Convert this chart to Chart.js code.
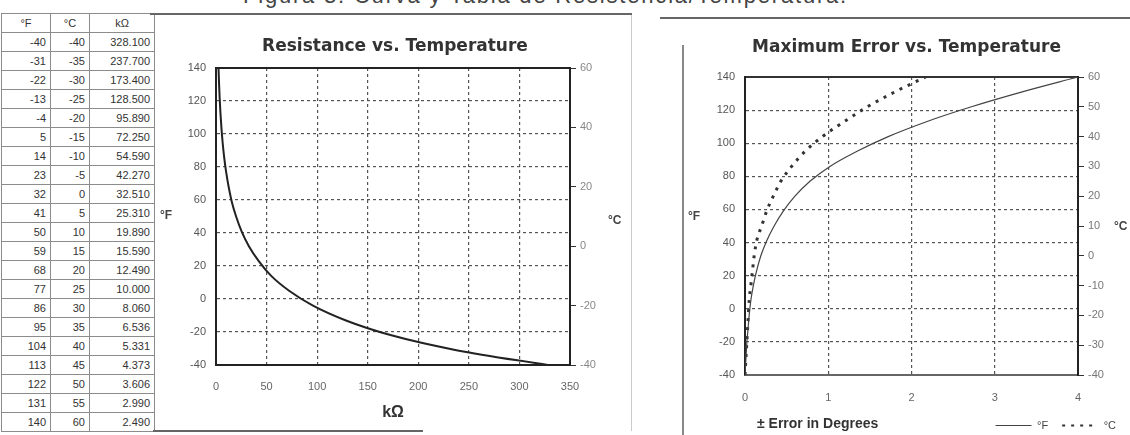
<!DOCTYPE html>
<html><head><meta charset="utf-8">
<script src="https://cdn.jsdelivr.net/npm/chart.js@4.4.1/dist/chart.umd.min.js"></script>
<style>
body{margin:0;width:1130px;height:435px;overflow:hidden;background:#fff;position:relative;font-family:'Liberation Sans',Arial,sans-serif;color:#333}
.abs{position:absolute}
#caption{position:absolute;left:243px;top:-15px;font-size:22px;line-height:22px;color:#444;white-space:nowrap}
#tbl{position:absolute;left:1px;top:13px;width:153px;border-collapse:collapse;table-layout:fixed;font-size:11px;color:#333}
#tbl tr{height:19px}
#tbl td,#tbl th{padding:0 4px 0 0;text-align:right;border:1px solid #8c8c8c;font-weight:normal;overflow:hidden;white-space:nowrap}
#tbl th{text-align:center;padding:0}
.unit{position:absolute;font-size:12px;font-weight:bold;color:#444}
</style></head>
<body>
<div id="caption">Figura 3. Curva y Tabla de Resistencia/Temperatura.</div>
<table id="tbl"></table>

<div class="abs" style="left:150px;top:13px;width:482px;border-top:2px solid #666"></div>
<div class="abs" style="left:631px;top:15px;height:416px;border-left:1px solid #ccc"></div>
<div class="abs" style="left:153px;top:430px;width:270px;border-top:2px solid #666"></div>
<div class="abs" style="left:660px;top:17px;width:470px;border-top:2px solid #666"></div>
<div class="abs" style="left:682px;top:45px;height:390px;border-left:2px solid #888"></div>

<div class="abs" style="left:155px;top:20px;width:480px;height:410px"><canvas id="c1" width="480" height="410"></canvas></div>
<div class="abs" style="left:683px;top:20px;width:447px;height:421px"><canvas id="c2" width="447" height="421"></canvas></div>

<div class="unit" style="left:160px;top:208px">°F</div>
<div class="unit" style="left:608px;top:213px">°C</div>
<div class="unit" style="left:688px;top:209px">°F</div>
<div class="unit" style="left:1114px;top:219px">°C</div>
<div class="abs" style="left:757px;top:415px;font-size:14px;font-weight:bold;color:#333;white-space:nowrap">± Error in Degrees</div>

<script>
// ---- data ----
const tempF = [-40,-31,-22,-13,-4,5,14,23,32,41,50,59,68,77,86,95,104,113,122,131,140];
const tempC = [-40,-35,-30,-25,-20,-15,-10,-5,0,5,10,15,20,25,30,35,40,45,50,55,60];
const resK  = [328.1,237.7,173.4,128.5,95.89,72.25,54.59,42.27,32.51,25.31,19.89,15.59,12.49,10.0,8.06,6.536,5.331,4.373,3.606,2.99,2.49];
const errF  = [0,0.01,0.02,0.035,0.05,0.07,0.1,0.14,0.19,0.26,0.35,0.46,0.6,0.78,1.02,1.34,1.72,2.18,2.72,3.33,4.0];
const errC  = [0,0.01,0.02,0.03,0.04,0.05,0.07,0.09,0.11,0.14,0.2,0.26,0.34,0.43,0.56,0.72,0.93,1.19,1.47,1.8,2.17];
const resTicks = [0,50,100,150,200,250,300,350];
const errTicks = [0,1,2,3,4];
const tempFTicks = [-40,-20,0,20,40,60,80,100,120,140];
const tempCTicks1 = [-40,-20,0,20,40,60];
const tempCTicks2 = [-40,-30,-20,-10,0,10,20,30,40,50,60];
const headers = ['°F','°C','kΩ'];

// ---- table ----
let html = '<colgroup><col style="width:49px"><col style="width:39px"><col style="width:65px"></colgroup>';
html += '<tr>' + headers.map(h => '<th>' + h + '</th>').join('') + '</tr>';
tempF.forEach((f, i) => {
  html += '<tr><td>' + f + '</td><td>' + tempC[i] + '</td><td>' + resK[i].toFixed(3) + '</td></tr>';
});
document.getElementById('tbl').innerHTML = html;

// caption width fit
const cap = document.getElementById('caption');
const w = cap.getBoundingClientRect().width;
cap.style.letterSpacing = ((605 - w) / cap.textContent.length) + 'px';

Chart.defaults.font.family = "'Liberation Sans', Arial, sans-serif";
Chart.defaults.animation = false;

const gridDash = [3, 3];
const stepOf = a => a[1] - a[0];

function fixW(v){ return s => { s.width = v; }; }
function fixH(v){ return s => { s.height = v; }; }

// ---- chart 1 ----
const pts1 = resK.map((r, i) => ({x: r, y: tempF[i]})).sort((a, b) => a.x - b.x);
new Chart(document.getElementById('c1'), {
  type: 'scatter',
  data: {datasets: [{data: pts1, showLine: true, borderColor: '#222', borderWidth: 2, pointRadius: 0, cubicInterpolationMode: 'monotone'}]},
  options: {
    responsive: false,
    layout: {padding: 0},
    plugins: {
      legend: {display: false}, tooltip: {enabled: false},
      title: {display: true, text: 'Resistance vs. Temperature', color: '#333',
        font: {family: 'DejaVu Sans', size: 17, weight: 'bold', lineHeight: 1.2}, padding: {top: 16, bottom: 11.6}}
    },
    scales: {
      x: {type: 'linear', position: 'bottom', min: resTicks[0], max: resTicks[resTicks.length-1],
        ticks: {stepSize: stepOf(resTicks), color: '#666', font: {size: 11}, padding: 15},
        grid: {color: '#555', lineWidth: 1.2, drawTicks: false},
        border: {display: true, color: '#222', width: 2, dash: gridDash},
        title: {display: true, text: 'kΩ', color: '#333', font: {size: 16, weight: 'bold'}, padding: {top: 0, bottom: 8}},
        afterFit: fixH(65)},
      xTop: {type: 'linear', position: 'top', min: resTicks[0], max: resTicks[resTicks.length-1],
        ticks: {display: false}, grid: {display: false, drawTicks: false},
        border: {display: true, color: '#222', width: 2}, afterFit: fixH(0)},
      y: {type: 'linear', position: 'left', min: tempFTicks[0], max: tempFTicks[tempFTicks.length-1],
        ticks: {stepSize: stepOf(tempFTicks), color: '#555', font: {size: 11}, padding: 10},
        grid: {color: '#555', lineWidth: 1.2, drawTicks: false},
        border: {display: true, color: '#222', width: 2, dash: gridDash},
        afterFit: fixW(61)},
      y2: {type: 'linear', position: 'right', min: tempCTicks1[0], max: tempCTicks1[tempCTicks1.length-1],
        ticks: {stepSize: stepOf(tempCTicks1), color: '#888', font: {size: 11}, padding: 4},
        grid: {drawOnChartArea: false, drawTicks: true, tickLength: 6, color: '#333'},
        border: {display: true, color: '#222', width: 2},
        afterFit: fixW(65)}
    }
  }
});

// ---- chart 2 ----
const legendLabels = chart => Chart.defaults.plugins.legend.labels.generateLabels(chart).map(it => {
  const ds = chart.data.datasets[it.datasetIndex];
  it.lineDash = ds.borderDash || [];
  it.lineWidth = ds.legendWidth;
  it.strokeStyle = ds.borderColor;
  it.pointStyle = 'line';
  return it;
});
new Chart(document.getElementById('c2'), {
  type: 'scatter',
  data: {datasets: [
    {label: '°F', data: errF.map((e, i) => ({x: e, y: tempF[i]})), showLine: true, borderColor: '#444', borderWidth: 1.2, legendWidth: 1.2, pointRadius: 0, cubicInterpolationMode: 'monotone'},
    {label: '°C', data: errC.map((e, i) => ({x: e, y: tempF[i]})), showLine: true, borderColor: '#333', borderWidth: 3, legendWidth: 2, borderDash: [3, 6], pointRadius: 0, cubicInterpolationMode: 'monotone'}
  ]},
  options: {
    responsive: false,
    layout: {padding: 0},
    plugins: {
      tooltip: {enabled: false},
      legend: {display: true, position: 'bottom', align: 'end',
        labels: {usePointStyle: true, pointStyle: 'line', pointStyleWidth: 36, padding: 14, color: '#444', font: {size: 11}, generateLabels: legendLabels}},
      title: {display: true, text: 'Maximum Error vs. Temperature', color: '#333',
        font: {family: 'DejaVu Sans', size: 17, weight: 'bold', lineHeight: 1.2}, padding: {top: 17, bottom: 19.6}}
    },
    scales: {
      x: {type: 'linear', position: 'bottom', min: errTicks[0], max: errTicks[errTicks.length-1],
        ticks: {stepSize: stepOf(errTicks), color: '#666', font: {size: 11}, padding: 16},
        grid: {color: '#555', lineWidth: 1.2, drawTicks: false},
        border: {display: true, color: '#666', width: 2, dash: gridDash},
        afterFit: fixH(31)},
      xTop: {type: 'linear', position: 'top', min: errTicks[0], max: errTicks[errTicks.length-1],
        ticks: {display: false}, grid: {display: false, drawTicks: false},
        border: {display: true, color: '#333', width: 2}, afterFit: fixH(0)},
      y: {type: 'linear', position: 'left', min: tempFTicks[0], max: tempFTicks[tempFTicks.length-1],
        ticks: {stepSize: stepOf(tempFTicks), color: '#555', font: {size: 11}, padding: 10},
        grid: {color: '#555', lineWidth: 1.2, drawTicks: false},
        border: {display: true, color: '#222', width: 2, dash: gridDash},
        afterFit: fixW(62)},
      y2: {type: 'linear', position: 'right', min: tempCTicks2[0], max: tempCTicks2[tempCTicks2.length-1],
        ticks: {stepSize: stepOf(tempCTicks2), color: '#777', font: {size: 11}, padding: 4},
        grid: {drawOnChartArea: false, drawTicks: true, tickLength: 6, color: '#333'},
        border: {display: true, color: '#222', width: 2},
        afterFit: fixW(52)}
    }
  }
});
</script>
</body></html>
